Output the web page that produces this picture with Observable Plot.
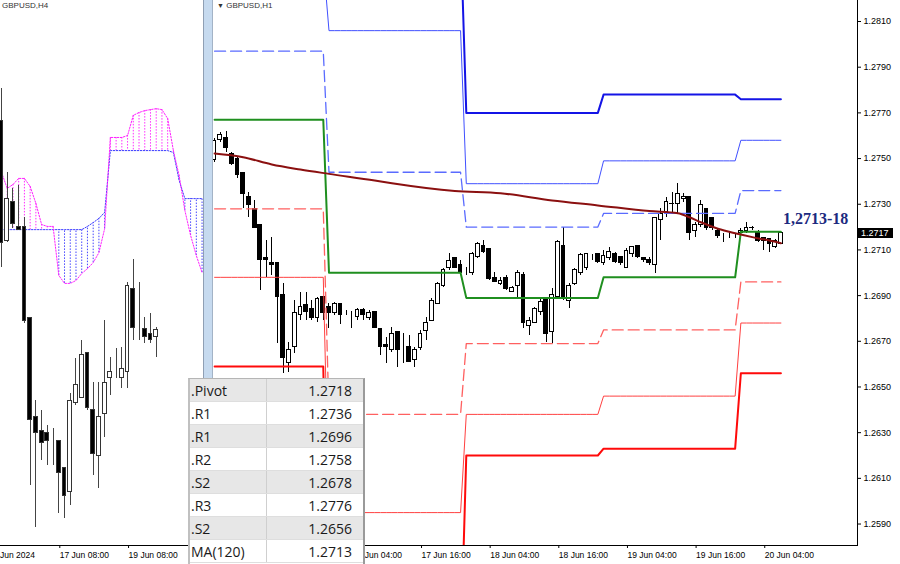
<!DOCTYPE html>
<html><head><meta charset="utf-8">
<script src="https://cdn.jsdelivr.net/npm/d3@7"></script>
<script src="https://cdn.jsdelivr.net/npm/@observablehq/plot@0.6"></script>
<style>
body{margin:0;background:#fff;}
#wrap{position:relative;width:900px;height:564px;overflow:hidden;background:#fff;font-family:"Liberation Sans",Arial,sans-serif;}
#left{position:absolute;left:0;top:0;width:203px;height:564px;overflow:hidden;}
#right{position:absolute;left:213px;top:0;width:687px;height:564px;overflow:hidden;}
#sep{position:absolute;left:203px;top:0;width:10px;height:378px;background:#c6daef;border-left:1px solid #8f9fb4;border-right:1px solid #a3b3c6;box-sizing:border-box;}
.ttl{position:absolute;top:0;font-size:8px;line-height:11px;color:#333;white-space:pre;}
#tbl{position:absolute;left:188px;top:378px;width:177px;height:186px;background:#fff;border-top:1px solid #b5b5b5;border-left:2px solid #c0c0c0;border-right:2px solid #9a9a9a;box-sizing:border-box;font-family:"Open Sans",sans-serif;font-size:14px;color:#1a1a1a;}
.row{display:flex;height:23px;line-height:23px;box-sizing:border-box;border-bottom:1px solid #dedede;}
.row .lab{width:77px;padding-left:1px;box-sizing:border-box;border-right:1px solid #cfcfcf;}
.row .val{flex:1;text-align:right;padding-right:11px;}
#tag{position:absolute;background:#000;color:#fff;font-size:9px;line-height:10px;height:10px;padding-left:3px;width:32px;}
</style></head>
<body><div id="wrap">
<div id="left"></div>
<div id="sep"></div>
<div id="right"></div>
<div class="ttl" style="left:2px;">GBPUSD,H4</div>
<div class="ttl" style="left:217px;"><span style="font-size:7px">▼</span> GBPUSD,H1</div>
<div id="tbl"></div>
<div id="tag"></div>
</div>
<script>
// ---------------- H1 data (hours relative to 17 Jun 00:00) ----------------
const h1StartHour = -20;
const h1Open  = [1.27492,1.27583,1.27592,1.27522,1.27496,1.27435,1.27330,1.27281,1.27211,1.27063,1.27041,1.27041,1.26901,1.26607,1.26673,1.26813,1.26861,1.26843,1.26800,1.26892,
1.26848,1.26822,1.26865,1.26826,1.26822,1.26808,1.26839,1.26800,1.26830,1.26752,1.26682,1.26660,1.26739,1.26682,1.26673,1.26620,1.26669,1.26743,1.26791,1.26865,1.26944,1.27019,1.27063,1.27032,
1.27005,1.26997,1.27067,1.27119,1.27102,1.26979,1.26953,1.26975,1.26918,1.26940,1.26992,1.26769,1.26782,1.26830,1.26883,1.26739,1.26892,1.27119,1.26878,1.26953,1.26997,1.27023,1.27072,1.27084,
1.27041,1.27063,1.27084,1.27067,1.27023,1.27080,1.27119,1.27063,1.27054,1.27032,1.27229,1.27264,1.27299,1.27303,1.27321,1.27330,1.27185,1.27207,1.27281,1.27238,1.27185,1.27159,1.27163,1.27159,
1.27172,1.27181,1.27198,1.27176,1.27154,1.27150,1.27111,1.27128];
const h1High  = [1.27588,1.27614,1.27619,1.27527,1.27505,1.27439,1.27351,1.27316,1.27211,1.27141,1.27154,1.27041,1.26953,1.26695,1.26878,1.26914,1.26914,1.26878,1.26892,1.26892,
1.26865,1.26870,1.26865,1.26835,1.26830,1.26843,1.26843,1.26835,1.26830,1.26752,1.26717,1.26760,1.26739,1.26734,1.26725,1.26673,1.26747,1.26804,1.26887,1.26958,1.27019,1.27084,1.27063,1.27054,
1.27023,1.27089,1.27133,1.27141,1.27102,1.27001,1.26979,1.26988,1.26940,1.27010,1.27001,1.26804,1.26848,1.26887,1.26883,1.26931,1.27141,1.27198,1.26953,1.27019,1.27084,1.27084,1.27080,1.27084,
1.27097,1.27111,1.27089,1.27072,1.27106,1.27115,1.27119,1.27067,1.27067,1.27242,1.27281,1.27330,1.27351,1.27391,1.27347,1.27330,1.27220,1.27316,1.27281,1.27242,1.27194,1.27172,1.27176,1.27172,
1.27194,1.27220,1.27203,1.27185,1.27154,1.27150,1.27146,1.27172];
const h1Low   = [1.27483,1.27570,1.27527,1.27470,1.27413,1.27281,1.27242,1.27194,1.26922,1.26979,1.26988,1.26690,1.26559,1.26563,1.26646,1.26791,1.26791,1.26791,1.26782,1.26791,
1.26756,1.26813,1.26773,1.26813,1.26756,1.26791,1.26791,1.26791,1.26756,1.26638,1.26603,1.26651,1.26585,1.26603,1.26611,1.26585,1.26660,1.26703,1.26791,1.26865,1.26935,1.27010,1.27019,1.26997,
1.26988,1.26988,1.27063,1.27084,1.26966,1.26958,1.26944,1.26922,1.26914,1.26887,1.26756,1.26725,1.26778,1.26813,1.26695,1.26690,1.26887,1.26878,1.26843,1.26944,1.26988,1.27010,1.27054,1.27041,
1.27032,1.27054,1.27041,1.27032,1.27019,1.27067,1.27063,1.27045,1.27032,1.26997,1.27141,1.27242,1.27264,1.27259,1.27308,1.27141,1.27154,1.27198,1.27185,1.27185,1.27150,1.27133,1.27150,1.27150,
1.27154,1.27172,1.27185,1.27133,1.27097,1.27089,1.27106,1.27128];
const h1Close = [1.27579,1.27605,1.27548,1.27478,1.27426,1.27343,1.27295,1.27198,1.27054,1.27054,1.27036,1.26892,1.26625,1.26660,1.26822,1.26848,1.26830,1.26804,1.26883,1.26822,
1.26822,1.26865,1.26817,1.26826,1.26822,1.26835,1.26813,1.26822,1.26760,1.26673,1.26673,1.26734,1.26660,1.26682,1.26611,1.26664,1.26734,1.26782,1.26878,1.26953,1.27010,1.27050,1.27023,1.26997,
1.27005,1.27084,1.27128,1.27089,1.26971,1.26958,1.26962,1.26931,1.26935,1.27001,1.26782,1.26791,1.26843,1.26870,1.26734,1.26901,1.27133,1.26887,1.26944,1.27010,1.27076,1.27084,1.27072,1.27045,
1.27072,1.27089,1.27045,1.27041,1.27097,1.27115,1.27067,1.27054,1.27041,1.27238,1.27259,1.27308,1.27303,1.27347,1.27330,1.27176,1.27207,1.27295,1.27198,1.27194,1.27159,1.27159,1.27163,1.27159,
1.27181,1.27198,1.27194,1.27141,1.27141,1.27128,1.27141,1.27172];

// daily pivot levels: 14 Jun, 17 Jun, 18 Jun, 19 Jun, 20 Jun
const dayStartHour = [-20, 0, 24, 48, 72];
const pivotLevel = [1.2767, 1.2700, 1.2689, 1.2698, 1.2718];
const r1Level    = [1.2797, 1.2744, 1.2720, 1.2726, 1.2736];
const r2Level    = [1.2836, 1.2806, 1.2739, 1.2749, 1.2758];
const r3Level    = [1.2866, 1.2850, 1.2770, 1.2778, 1.2776];
const s1Level    = [1.2728, 1.2638, 1.2669, 1.2675, 1.2696];
const s2Level    = [1.2698, 1.2595, 1.2638, 1.2646, 1.2678];
const s3Level    = [1.2659, 1.2533, 1.2620, 1.2623, 1.2656];

// MA(120)
const maHour  = [-20,-15,-10,-5,0,8,11,22,30,39,47,56,61,63,65,68,71,74,77,79];
const maValue = [1.27522,1.27506,1.27474,1.27452,1.27433,1.27404,1.27392,1.27358,1.27348,1.27316,1.27295,1.27270,1.27261,1.27243,1.27221,1.27193,1.27173,1.27156,1.27141,1.27129];

const priceTicks = [1.2590,1.2610,1.2630,1.2650,1.2670,1.2690,1.2710,1.2730,1.2750,1.2770,1.2790,1.2810];
const h1TickHour  = [4,16,28,40,52,64,76];
const h1TickLabel = ["17 Jun 04:00","17 Jun 16:00","18 Jun 04:00","18 Jun 16:00","19 Jun 04:00","19 Jun 16:00","20 Jun 04:00"];
const lastPrice = 1.2717;
const annotText = "1,2713-18";

// ---------------- H4 data ----------------
const h4Open  = [1.27826,1.27451,1.27570,1.27492,1.27492,1.27210,1.26898,1.26857,1.26848,1.26817,1.26826,1.26739,1.26664,1.26942,1.26960,1.27098,1.26920,1.26779,1.26910,1.27020,1.27029,1.27020,1.27039,1.27301,1.27182,1.27176,1.27160,1.27148];
const h4High  = [1.27926,1.27664,1.27613,1.27623,1.27523,1.27210,1.26951,1.26920,1.26873,1.26863,1.26826,1.26739,1.26973,1.27082,1.27139,1.27098,1.27007,1.27007,1.27201,1.27085,1.27114,1.27117,1.27320,1.27392,1.27320,1.27210,1.27223,1.27179];
const h4Low   = [1.27367,1.27445,1.27488,1.27485,1.27192,1.26685,1.26554,1.26763,1.26748,1.26748,1.26598,1.26582,1.26623,1.26935,1.26957,1.26920,1.26717,1.26676,1.26835,1.26967,1.27020,1.26988,1.26988,1.27139,1.27139,1.27129,1.27129,1.27085];
const h4Close = [1.27442,1.27582,1.27504,1.27485,1.27201,1.26889,1.26848,1.26817,1.26826,1.26817,1.26726,1.26654,1.26951,1.26998,1.27092,1.26929,1.26785,1.26898,1.27007,1.27039,1.27029,1.27051,1.27310,1.27179,1.27182,1.27148,1.27139,1.27170];
const spanA = [1.27664,1.27614,1.27626,1.27645,1.27645,1.27620,1.27567,1.27501,1.27495,1.27495,1.27342,1.27317,1.27317,1.27326,1.27348,1.27363,1.27382,1.27413,1.27488,
1.27773,1.27773,1.27773,1.27779,1.27842,1.27851,1.27857,1.27860,1.27863,1.27860,1.27832,1.27732,1.27654,1.27545,1.27467,1.27404,1.27351];
const spanB = [1.27485,1.27485,1.27485,1.27485,1.27485,1.27485,1.27485,1.27485,1.27485,1.27485,1.27485,1.27485,1.27485,1.27485,1.27485,1.27495,1.27507,1.27520,1.27539,
1.27732,1.27732,1.27732,1.27732,1.27732,1.27732,1.27732,1.27732,1.27732,1.27732,1.27732,1.27726,1.27639,1.27582,1.27582,1.27582,1.27582];
const h4TickBar   = [-2.5, 10, 22];
const h4TickLabel = ["13 Jun 2024","17 Jun 08:00","19 Jun 08:00"];

// ---------------- table ----------------
const tableLabels = [".Pivot",".R1",".R1",".R2",".S2",".R3",".S2","MA(120)"];
const tableValues = ["1.2718","1.2736","1.2696","1.2758","1.2678","1.2776","1.2656","1.2713"];

// ================= build =================
const FONT = "Liberation Sans, Arial, sans-serif";
const candles1 = h1Open.map((o,i)=>({h:h1StartHour+i, open:o, high:h1High[i], low:h1Low[i], close:h1Close[i]}));
const dayIdx = h => { let k = 0; dayStartHour.forEach((s,i)=>{ if (h >= s) k = i; }); return k; };
const levelDefs = [
  {vals:s3Level, stroke:"#ff0a0a", w:2, dash:null},
  {vals:s2Level, stroke:"#ff4040", w:1, dash:null},
  {vals:s1Level, stroke:"#ff6060", w:1.3, dash:"11,5"},
  {vals:r3Level, stroke:"#1414e6", w:2, dash:null},
  {vals:r2Level, stroke:"#4050ff", w:1, dash:null},
  {vals:r1Level, stroke:"#5a6bff", w:1.3, dash:"11,5"},
  {vals:pivotLevel, stroke:"#1f8f1f", w:2, dash:null}
];
const levelMarks = levelDefs.map(L => Plot.line(
  candles1.map(c => ({h:c.h, v:L.vals[dayIdx(c.h)]})),
  {x:"h", y:"v", stroke:L.stroke, strokeWidth:L.w, strokeDasharray:L.dash, clip:true}));
const maData = maHour.map((h,i)=>({h, v:maValue[i]}));
const h1LabelMap = new Map(h1TickHour.map((h,i)=>[h,h1TickLabel[i]]));

const right = Plot.plot({
  width:687, height:564, marginLeft:0, marginRight:43, marginTop:0, marginBottom:19,
  x:{domain:[-20.19, 92.39], label:null},
  y:{domain:[1.25806, 1.28192], label:null},
  style:{background:"transparent", color:"#000", fontFamily:FONT},
  marks:[
    Plot.ruleX(candles1, {x:"h", y1:"low", y2:"high", stroke:"#000", strokeWidth:1, shapeRendering:"crispEdges"}),
    Plot.rect(candles1, {x1:d=>d.h-0.33, x2:d=>d.h+0.33, y1:"open", y2:"close", fill:d=>d.close>=d.open?"#fff":"#000", stroke:"#000", strokeWidth:1, shapeRendering:"crispEdges"}),
    ...levelMarks,
    Plot.line(maData, {x:"h", y:"v", stroke:"#8b1010", strokeWidth:2, curve:"monotone-x"}),
    Plot.frame({anchor:"right", stroke:"#000"}),
    Plot.frame({anchor:"bottom", stroke:"#000"}),
    Plot.axisY({anchor:"right", ticks:priceTicks, tickFormat:d=>d.toFixed(4), tickSize:3, tickPadding:3, fontSize:9, label:null}),
    Plot.axisX({anchor:"bottom", ticks:h1TickHour, tickFormat:d=>h1LabelMap.get(d), tickSize:3, tickPadding:3, textAnchor:"start", dx:1, fontSize:8.5, label:null}),
    Plot.text([{h:h1StartHour+h1Close.length-1, v:pivotLevel[pivotLevel.length-1], t:annotText}],
      {x:"h", y:"v", text:"t", dx:2, dy:-13, textAnchor:"start", fontFamily:"Liberation Serif, serif", fontWeight:"bold", fontSize:16, fill:"#1c2a80"})
  ]
});
document.getElementById("right").appendChild(right);

// price tag positioned with the chart's own y scale
const ty = right.scale("y").apply(lastPrice);
const tag = document.getElementById("tag");
tag.textContent = lastPrice.toFixed(4);
tag.style.left = (213 + 687 - 43 + 1) + "px";
tag.style.top = (ty - 5) + "px";

// ---- H4 panel ----
const candles4 = h4Open.map((o,i)=>({k:i, open:o, high:h4High[i], low:h4Low[i], close:h4Close[i]}));
const cloud = spanA.map((a,i)=>({k:i, a, b:spanB[i]}));
const h4LabelMap = new Map(h4TickBar.map((k,i)=>[k,h4TickLabel[i]]));
const left = Plot.plot({
  width:203, height:564, marginLeft:0, marginRight:0, marginTop:0, marginBottom:19,
  x:{domain:[-0.1745, 35.253], label:null},
  y:{domain:[1.26498, 1.28201], axis:null},
  style:{background:"transparent", color:"#000", fontFamily:FONT},
  marks:[
    Plot.ruleX(cloud, {x:"k", y1:"a", y2:"b", stroke:d=>d.a>d.b?"#ff30ff":"#4646ff", strokeWidth:1, strokeDasharray:"1.5,1.5"}),
    Plot.line(cloud, {x:"k", y:"b", stroke:"#3c3cff", strokeWidth:1, strokeDasharray:"1.5,1.5"}),
    Plot.line(cloud, {x:"k", y:"a", stroke:"#ff20ff", strokeWidth:1, strokeDasharray:"1.5,1.5"}),
    Plot.ruleX(candles4, {x:"k", y1:"low", y2:"high", stroke:"#444", strokeWidth:1, shapeRendering:"crispEdges"}),
    Plot.rect(candles4, {x1:d=>d.k-0.33, x2:d=>d.k+0.33, y1:"open", y2:"close", fill:d=>d.close>=d.open?"#fff":"#000", stroke:"#333", strokeWidth:1, shapeRendering:"crispEdges"}),
    Plot.frame({anchor:"bottom", stroke:"#000"}),
    Plot.axisX({anchor:"bottom", ticks:h4TickBar, tickFormat:d=>h4LabelMap.get(d), tickSize:3, tickPadding:3, textAnchor:"start", dx:1, fontSize:8.5, label:null})
  ]
});
document.getElementById("left").appendChild(left);

// ---- table ----
const tbl = document.getElementById("tbl");
tableLabels.forEach((lab,i)=>{
  const r = document.createElement("div");
  r.className = "row";
  r.style.background = i % 2 === 0 ? "#e7e7e7" : "#ffffff";
  const a = document.createElement("div"); a.className = "lab"; a.textContent = lab;
  const b = document.createElement("div"); b.className = "val"; b.textContent = tableValues[i];
  r.appendChild(a); r.appendChild(b); tbl.appendChild(r);
});
</script>
</body></html>
